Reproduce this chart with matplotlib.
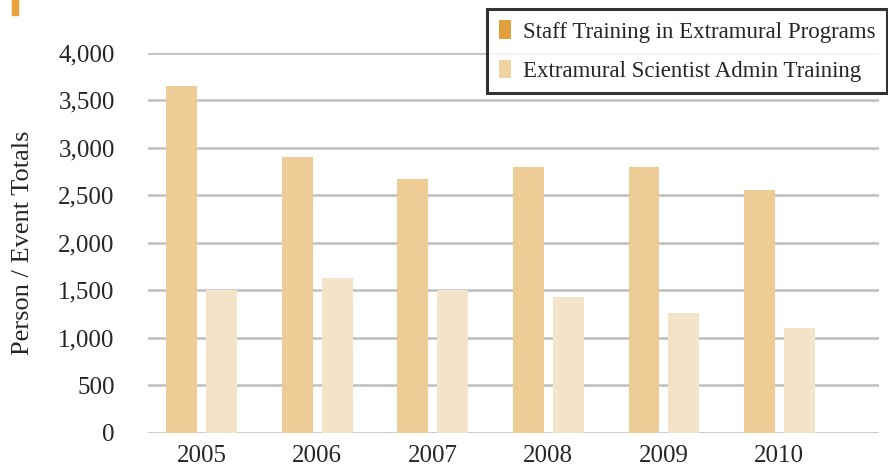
import numpy as np
import matplotlib.pyplot as plt
from matplotlib.patches import Patch, Rectangle

# training totals per year
years = ["2005", "2006", "2007", "2008", "2009", "2010"]
staff_training = [3645, 2900, 2670, 2800, 2800, 2550]
admin_training = [1505, 1630, 1505, 1425, 1255, 1105]

yticks = [0, 500, 1000, 1500, 2000, 2500, 3000, 3500, 4000]
ytick_labels = ["0", "500", "1,000", "1,500", "2,000", "2,500", "3,000", "3,500", "4,000"]

staff_label = "Staff Training in Extramural Programs"
admin_label = "Extramural Scientist Admin Training"

#---plot configuration---#
bar_dark = "#EDCC96"
bar_light = "#F3E3C8"
leg_dark = "#E2A03C"
leg_light = "#F1D3A0"
grid_col = "#BEBEC2"
txt_col = "#262626"
font = "Liberation Serif"
fs = 18

fig = plt.figure(figsize=(8.88, 4.66), dpi=100)
ax = fig.add_axes([0.1667, 0.0715, 0.8233, 0.8155])

x = np.arange(len(years))
width = 0.265
off = 0.173
ax.bar(x - off, staff_training, width, color=bar_dark, zorder=3)
ax.bar(x + off, admin_training, width, color=bar_light, zorder=3)

ax.set_xlim(-0.465, 5.864)
ax.set_ylim(0, 4000)
ax.set_yticks(yticks)
ax.set_yticklabels(ytick_labels)
ax.set_xticks(x)
ax.set_xticklabels(years)
ax.yaxis.grid(True, color=grid_col, linewidth=1.8, zorder=0)
ax.set_axisbelow(True)
for s in ax.spines.values():
    s.set_visible(False)
ax.tick_params(axis='both', length=0, labelsize=fs, labelcolor=txt_col)
ax.tick_params(axis='y', pad=24)
ax.tick_params(axis='x', pad=9)
plt.setp(ax.get_xticklabels() + ax.get_yticklabels(), family=font)

fig.text(0.026, 0.48, "Person / Event Totals", rotation=90, ha='center', va='center',
         fontsize=19, color=txt_col, family=font)

# little orange mark in the top-left corner
fig.patches.append(Rectangle((12/888, 1 - 15/466), 6/888, 15/466, transform=fig.transFigure,
                             color="#E8A33A", zorder=5))

handles = [Patch(facecolor=leg_dark, edgecolor='none'), Patch(facecolor=leg_light, edgecolor='none')]
leg = fig.legend(handles, [staff_label, admin_label], loc='upper right',
                 bbox_to_anchor=(887/888, 1 - 9/466), frameon=True,
                 fancybox=False, handlelength=0.55, handleheight=0.85, handletextpad=0.5,
                 borderpad=0.5, labelspacing=0.75, borderaxespad=0,
                 prop={'family': font, 'size': 16.5})
leg.get_frame().set_edgecolor('black')
leg.get_frame().set_linewidth(2.2)
for t in leg.get_texts():
    t.set_color(txt_col)

fig.savefig("out.png", dpi=100)
